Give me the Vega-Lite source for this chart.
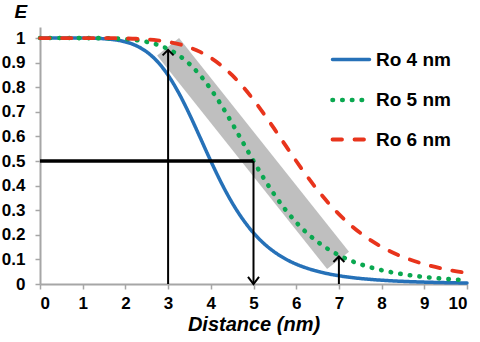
{
  "$schema": "https://vega.github.io/schema/vega-lite/v6.json",
  "width": 427,
  "height": 257,
  "autosize": "none",
  "padding": {"left": 40, "top": 27, "right": 13, "bottom": 58},
  "background": "white",
  "config": {"view": {"stroke": null}, "font": "Liberation Sans"},
  "encoding": {
    "x": {
      "field": "x", "type": "quantitative",
      "scale": {"domain": [0, 10], "nice": false, "zero": false},
      "axis": {
        "title": "Distance (nm)", "values": [0,1,2,3,4,5,6,7,8,9,10], "grid": false,
        "domainColor": "#a6a6a6", "domainWidth": 2, "tickColor": "#a6a6a6", "tickWidth": 1.5, "tickSize": 5,
        "labelFont": "Liberation Sans", "labelFontSize": 17, "labelFontWeight": "bold", "labelColor": "#000000", "labelPadding": 6,
        "titleFont": "Liberation Sans", "titleFontSize": 20, "titleFontWeight": "bold", "titleFontStyle": "italic", "titleColor": "#000000",
        "titleBaseline": "alphabetic", "titleY": 46
      }
    },
    "y": {
      "field": "y", "type": "quantitative",
      "scale": {"domain": [0, 1.045], "nice": false, "zero": false},
      "axis": {
        "title": "E", "values": [0,0.1,0.2,0.3,0.4,0.5,0.6,0.7,0.8,0.9,1], "format": "~g", "grid": false,
        "domainColor": "#a6a6a6", "domainWidth": 2, "tickColor": "#a6a6a6", "tickWidth": 1.5, "tickSize": 5,
        "labelFont": "Liberation Sans", "labelFontSize": 17, "labelFontWeight": "bold", "labelColor": "#000000", "labelPadding": 10,
        "titleFont": "Liberation Sans", "titleFontSize": 19, "titleFontWeight": "bold", "titleFontStyle": "italic", "titleColor": "#000000",
        "titleAngle": 0, "titleAlign": "left", "titleBaseline": "alphabetic", "titleX": -26, "titleY": -10
      }
    }
  },
  "layer": [
    {
      "data": {"values": [{"x": 3.0, "y": 0.965, "x2": 6.98, "y2": 0.096}]},
      "mark": {"type": "rule", "color": "#bfbfbf", "strokeWidth": 28, "strokeCap": "butt"},
      "encoding": {"x2": {"field": "x2"}, "y2": {"field": "y2"}}
    },
    {
      "data": {"values": [
        {"series":"Ro 4 nm","x":0,"y":1},{"series":"Ro 4 nm","x":0.5,"y":1},{"series":"Ro 4 nm","x":1,"y":0.9998},{"series":"Ro 4 nm","x":1.25,"y":0.9991},{"series":"Ro 4 nm","x":1.5,"y":0.9972},{"series":"Ro 4 nm","x":1.75,"y":0.993},{"series":"Ro 4 nm","x":2,"y":0.9846},{"series":"Ro 4 nm","x":2.25,"y":0.9693},{"series":"Ro 4 nm","x":2.5,"y":0.9437},{"series":"Ro 4 nm","x":2.75,"y":0.9045},{"series":"Ro 4 nm","x":3,"y":0.8489},{"series":"Ro 4 nm","x":3.25,"y":0.7766},{"series":"Ro 4 nm","x":3.5,"y":0.6902},{"series":"Ro 4 nm","x":3.75,"y":0.5956},{"series":"Ro 4 nm","x":4,"y":0.5},{"series":"Ro 4 nm","x":4.25,"y":0.41},{"series":"Ro 4 nm","x":4.5,"y":0.3303},{"series":"Ro 4 nm","x":4.75,"y":0.2629},{"series":"Ro 4 nm","x":5,"y":0.2077},{"series":"Ro 4 nm","x":5.25,"y":0.1636},{"series":"Ro 4 nm","x":5.5,"y":0.1289},{"series":"Ro 4 nm","x":5.75,"y":0.1018},{"series":"Ro 4 nm","x":6,"y":0.0807},{"series":"Ro 4 nm","x":6.25,"y":0.0643},{"series":"Ro 4 nm","x":6.5,"y":0.0515},{"series":"Ro 4 nm","x":6.75,"y":0.0415},{"series":"Ro 4 nm","x":7,"y":0.0336},{"series":"Ro 4 nm","x":7.25,"y":0.0274},{"series":"Ro 4 nm","x":7.5,"y":0.0225},{"series":"Ro 4 nm","x":7.75,"y":0.0186},{"series":"Ro 4 nm","x":8,"y":0.0154},{"series":"Ro 4 nm","x":8.5,"y":0.0107},{"series":"Ro 4 nm","x":9,"y":0.0076},{"series":"Ro 4 nm","x":9.5,"y":0.0055},{"series":"Ro 4 nm","x":10,"y":0.0041},
        {"series":"Ro 5 nm","x":0,"y":1},{"series":"Ro 5 nm","x":0.5,"y":1},{"series":"Ro 5 nm","x":1,"y":0.9999},{"series":"Ro 5 nm","x":1.25,"y":0.9998},{"series":"Ro 5 nm","x":1.5,"y":0.9993},{"series":"Ro 5 nm","x":1.75,"y":0.9982},{"series":"Ro 5 nm","x":2,"y":0.9959},{"series":"Ro 5 nm","x":2.25,"y":0.9918},{"series":"Ro 5 nm","x":2.5,"y":0.9846},{"series":"Ro 5 nm","x":2.75,"y":0.9731},{"series":"Ro 5 nm","x":3,"y":0.9554},{"series":"Ro 5 nm","x":3.25,"y":0.9299},{"series":"Ro 5 nm","x":3.5,"y":0.8947},{"series":"Ro 5 nm","x":3.75,"y":0.8489},{"series":"Ro 5 nm","x":4,"y":0.7923},{"series":"Ro 5 nm","x":4.25,"y":0.7262},{"series":"Ro 5 nm","x":4.5,"y":0.653},{"series":"Ro 5 nm","x":4.75,"y":0.5763},{"series":"Ro 5 nm","x":5,"y":0.5},{"series":"Ro 5 nm","x":5.25,"y":0.4273},{"series":"Ro 5 nm","x":5.5,"y":0.3608},{"series":"Ro 5 nm","x":5.75,"y":0.3018},{"series":"Ro 5 nm","x":6,"y":0.2509},{"series":"Ro 5 nm","x":6.25,"y":0.2077},{"series":"Ro 5 nm","x":6.5,"y":0.1716},{"series":"Ro 5 nm","x":6.75,"y":0.1418},{"series":"Ro 5 nm","x":7,"y":0.1172},{"series":"Ro 5 nm","x":7.25,"y":0.0971},{"series":"Ro 5 nm","x":7.5,"y":0.0807},{"series":"Ro 5 nm","x":7.75,"y":0.0673},{"series":"Ro 5 nm","x":8,"y":0.0563},{"series":"Ro 5 nm","x":8.5,"y":0.0398},{"series":"Ro 5 nm","x":9,"y":0.0286},{"series":"Ro 5 nm","x":9.5,"y":0.0208},{"series":"Ro 5 nm","x":10,"y":0.0154},
        {"series":"Ro 6 nm","x":0,"y":1},{"series":"Ro 6 nm","x":0.5,"y":1},{"series":"Ro 6 nm","x":1,"y":1},{"series":"Ro 6 nm","x":1.25,"y":0.9999},{"series":"Ro 6 nm","x":1.5,"y":0.9998},{"series":"Ro 6 nm","x":1.75,"y":0.9994},{"series":"Ro 6 nm","x":2,"y":0.9986},{"series":"Ro 6 nm","x":2.25,"y":0.9972},{"series":"Ro 6 nm","x":2.5,"y":0.9948},{"series":"Ro 6 nm","x":2.75,"y":0.9908},{"series":"Ro 6 nm","x":3,"y":0.9846},{"series":"Ro 6 nm","x":3.25,"y":0.9754},{"series":"Ro 6 nm","x":3.5,"y":0.9621},{"series":"Ro 6 nm","x":3.75,"y":0.9437},{"series":"Ro 6 nm","x":4,"y":0.9193},{"series":"Ro 6 nm","x":4.25,"y":0.8879},{"series":"Ro 6 nm","x":4.5,"y":0.8489},{"series":"Ro 6 nm","x":4.75,"y":0.8024},{"series":"Ro 6 nm","x":5,"y":0.7491},{"series":"Ro 6 nm","x":5.25,"y":0.6902},{"series":"Ro 6 nm","x":5.5,"y":0.6276},{"series":"Ro 6 nm","x":5.75,"y":0.5635},{"series":"Ro 6 nm","x":6,"y":0.5},{"series":"Ro 6 nm","x":6.25,"y":0.4391},{"series":"Ro 6 nm","x":6.5,"y":0.3822},{"series":"Ro 6 nm","x":6.75,"y":0.3303},{"series":"Ro 6 nm","x":7,"y":0.284},{"series":"Ro 6 nm","x":7.25,"y":0.2432},{"series":"Ro 6 nm","x":7.5,"y":0.2077},{"series":"Ro 6 nm","x":7.75,"y":0.1772},{"series":"Ro 6 nm","x":8,"y":0.1511},{"series":"Ro 6 nm","x":8.5,"y":0.1101},{"series":"Ro 6 nm","x":9,"y":0.0807},{"series":"Ro 6 nm","x":9.5,"y":0.0597},{"series":"Ro 6 nm","x":10,"y":0.0446}
      ]},
      "mark": {"type": "line", "strokeCap": "round", "interpolate": "monotone"},
      "encoding": {
        "color": {
          "field": "series", "type": "nominal",
          "scale": {"domain": ["Ro 4 nm", "Ro 5 nm", "Ro 6 nm"], "range": ["#2671b8", "#0aa850", "#e8341c"]},
          "legend": {
            "orient": "none", "legendX": 290, "legendY": 12, "title": null, "padding": 0, "rowPadding": 9,
            "symbolType": "stroke", "symbolSize": 1369, "symbolStrokeWidth": 3.8, "labelOffset": 4,
            "labelFont": "Liberation Sans", "labelFontSize": 19, "labelFontWeight": "bold", "labelColor": "#000000",
            "encode": {"symbols": {"update": {"strokeCap": {"value": "round"}}}}
          }
        },
        "strokeDash": {
          "field": "series", "type": "nominal",
          "scale": {"domain": ["Ro 4 nm", "Ro 5 nm", "Ro 6 nm"], "range": [[1, 0], [0.5, 9.2], [9.5, 12.5]]},
          "legend": {
            "orient": "none", "legendX": 290, "legendY": 12, "title": null, "padding": 0, "rowPadding": 9,
            "symbolType": "stroke", "symbolSize": 1369, "symbolStrokeWidth": 3.8, "labelOffset": 4,
            "labelFont": "Liberation Sans", "labelFontSize": 19, "labelFontWeight": "bold", "labelColor": "#000000",
            "encode": {"symbols": {"update": {"strokeCap": {"value": "round"}}}}
          }
        },
        "strokeWidth": {
          "field": "series", "type": "nominal",
          "scale": {"type": "ordinal", "domain": ["Ro 4 nm", "Ro 5 nm", "Ro 6 nm"], "range": [3.5, 4.6, 3.8]},
          "legend": null
        }
      }
    },
    {
      "data": {"values": [{"x": 0, "y": 0.5, "x2": 5, "y2": 0.5}]},
      "mark": {"type": "rule", "color": "#000000", "strokeWidth": 3.5, "strokeCap": "butt"},
      "encoding": {"x2": {"field": "x2"}, "y2": {"field": "y2"}}
    },
    {
      "data": {"values": [
        {"x": 5, "y": 0.5, "x2": 5, "y2": 0.0},
        {"x": 3, "y": 0, "x2": 3, "y2": 0.952},
        {"x": 7, "y": 0, "x2": 7, "y2": 0.112}
      ]},
      "mark": {"type": "rule", "color": "#000000", "strokeWidth": 2, "strokeCap": "butt"},
      "encoding": {"x2": {"field": "x2"}, "y2": {"field": "y2"}}
    },
    {
      "data": {"values": [
        {"x": 3, "y": 0.952, "dir": "up"},
        {"x": 5, "y": 0.0, "dir": "down"},
        {"x": 7, "y": 0.112, "dir": "up"}
      ]},
      "mark": {"type": "point", "filled": false, "stroke": "#000000", "strokeWidth": 2, "size": 121, "opacity": 1},
      "encoding": {
        "shape": {
          "field": "dir", "type": "nominal",
          "scale": {"domain": ["up", "down"], "range": ["M-1,1L0,0L1,1", "M-1,-1.3L0,0L1,-1.3"]},
          "legend": null
        }
      }
    }
  ]
}
